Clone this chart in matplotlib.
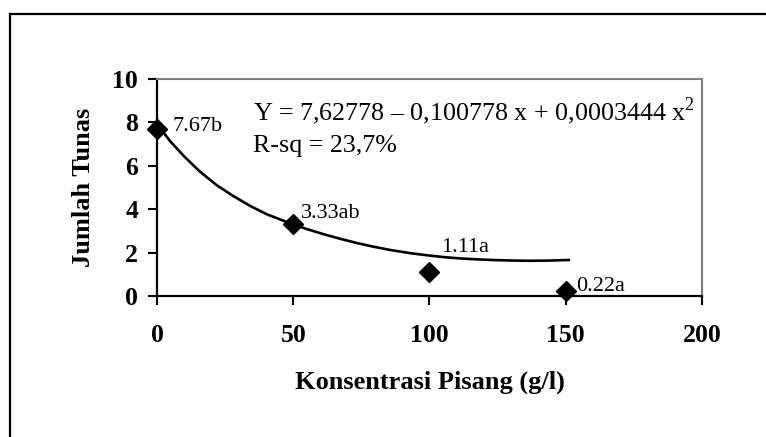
import matplotlib
matplotlib.use("Agg")
import matplotlib.pyplot as plt
from matplotlib.lines import Line2D

# ---- data ----
conc = [0, 50, 100, 150]
tunas = [7.67, 3.33, 1.11, 0.22]
point_labels = ["7.67b", "3.33ab", "1.11a", "0.22a"]

# fitted curve
curve_x = [0, 5, 10, 15.8, 21.9, 28, 34.1, 40.3, 48.8, 55, 61, 67, 73.3, 79,
           85.5, 93, 100, 106, 112.4, 118.5, 124.7, 131, 136.9, 144, 151.6]
curve_y = [7.9, 7.1, 6.42, 5.72, 5.1, 4.6, 4.15, 3.76, 3.35, 3.08, 2.85, 2.64,
           2.44, 2.28, 2.12, 1.97, 1.86, 1.78, 1.72, 1.68, 1.65, 1.63, 1.62, 1.63, 1.66]

x_ticks = [0, 50, 100, 150, 200]
y_ticks = [0, 2, 4, 6, 8, 10]

equation = "Y = 7,62778 \u2013 0,100778 x + 0,0003444 x$^2$"
rsq = "R-sq = 23,7%"

W, H = 766, 437
plt.rcParams['font.family'] = ['Liberation Serif', 'DejaVu Serif']
plt.rcParams['mathtext.fontset'] = 'custom'
plt.rcParams['mathtext.rm'] = 'Liberation Serif'

fig = plt.figure(figsize=(W / 100, H / 100), dpi=100)

def fx(px):
    return px / W

def fy(py):
    return 1 - py / H

# outer frame (left and top edges visible)
fig.add_artist(Line2D([fx(9.5), fx(9.5)], [fy(14), -0.05], color='black', lw=1.6,
                      transform=fig.transFigure))
fig.add_artist(Line2D([fx(9.5), 1.05], [fy(14), fy(14)], color='black', lw=1.6,
                      transform=fig.transFigure))

left, right, top, bottom = 157, 702, 78.7, 296
ax = fig.add_axes([fx(left), fy(bottom), (right - left) / W, (bottom - top) / H])
ax.set_xlim(0, 200)
ax.set_ylim(0, 10)

for s in ['top', 'right']:
    ax.spines[s].set_color('#808080')
    ax.spines[s].set_linewidth(1.5)
for s in ['left', 'bottom']:
    ax.spines[s].set_color('black')
    ax.spines[s].set_linewidth(1.6)

ax.set_xticks(x_ticks)
ax.set_yticks(y_ticks)
ax.set_xticklabels([str(v) for v in x_ticks], fontsize=18.5, fontweight='bold')
ax.set_yticklabels([str(v) for v in y_ticks], fontsize=18.5, fontweight='bold')
ax.tick_params(axis='x', direction='out', length=6.5, width=1.5, pad=14)
ax.tick_params(axis='y', direction='out', length=6.5, width=1.5, pad=7)

ax.plot(curve_x, curve_y, color='black', lw=1.9, solid_capstyle='butt',
        solid_joinstyle='round', clip_on=False)
ax.plot(conc, tunas, linestyle='none', marker='D', markersize=10,
        color='black', clip_on=False, zorder=5)

offsets = [(10.8, -1.0), (5.8, 3.8), (8.6, 14.1), (7.2, 0.0)]
for xv, yv, lab, off in zip(conc, tunas, point_labels, offsets):
    ax.annotate(lab, (xv, yv), xytext=off, textcoords='offset points',
                fontsize=16, ha='left', va='baseline')

fig.text(fx(253), fy(120), equation, fontsize=18.7, ha='left', va='baseline')
fig.text(fx(253), fy(152), rsq, fontsize=18.7, ha='left', va='baseline')

fig.text(fx(430), fy(382), "Konsentrasi Pisang (g/l)", fontsize=19, fontweight='bold',
         ha='center', va='center')
fig.text(fx(83), fy(187), "Jumlah Tunas", fontsize=19, fontweight='bold',
         ha='center', va='center', rotation=90)

fig.savefig("out.png", dpi=100)
